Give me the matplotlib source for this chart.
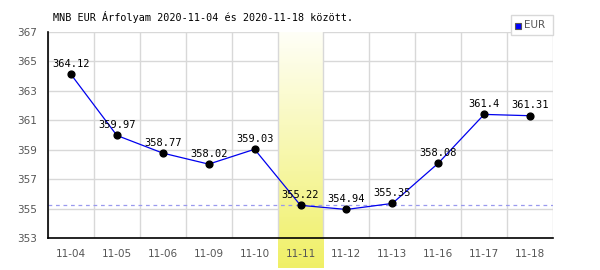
import numpy as np
import matplotlib.pyplot as plt
from matplotlib.patches import Rectangle

# EUR rates.
dates = ['11-04', '11-05', '11-06', '11-09', '11-10', '11-11',
         '11-12', '11-13', '11-16', '11-17', '11-18']
rates = [364.12, 359.97, 358.77, 358.02, 359.03, 355.22,
         354.94, 355.35, 358.08, 361.4, 361.31]
rate_labels = ['364.12', '359.97', '358.77', '358.02', '359.03', '355.22',
               '354.94', '355.35', '358.08', '361.4', '361.31']
highlight = '11-11'
ref_rate = 355.22
y_ticks = [353, 355, 357, 359, 361, 363, 365, 367]

fig = plt.figure(figsize=(6, 2.7), dpi=100)
ax = fig.add_axes([48 / 600, 32 / 270, 505 / 600, 206 / 270])

x = np.arange(len(dates))

# Yellow gradient band behind the highlighted day, running down past the axis.
hi = dates.index(highlight)
t = np.linspace(0, 1, 256)[:, None, None]
top = np.array([1.0, 1.0, 0.97])
bottom = np.array([0.94, 0.94, 0.40])
img = top + (bottom - top) * t
ax.imshow(img, extent=(hi - 0.5, hi + 0.5, -30 / 206, 1.0),
          transform=ax.get_xaxis_transform(), aspect='auto',
          clip_on=False, zorder=0.5, interpolation='bilinear')

ax.set_xlim(-0.5, len(dates) - 0.5)
ax.set_ylim(353, 367)

for xb in np.arange(-0.5, len(dates), 1.0):
    ax.axvline(xb, color='#d8d8d8', lw=1, zorder=0.6)
for yt in y_ticks:
    ax.axhline(yt, color='#d8d8d8', lw=1, zorder=0.4)

ax.axhline(ref_rate, color='#9999ee', lw=0.9, ls=(0, (3, 3)), zorder=1)

ax.plot(x, rates, color='#0000ee', lw=0.9, zorder=2)
ax.scatter(x, rates, s=24, color='black', zorder=3)
for xi, v, lab in zip(x, rates, rate_labels):
    ax.annotate(lab, (xi, v), xytext=(0, 4), textcoords='offset points',
                ha='center', va='bottom', fontsize=7.5,
                family='DejaVu Sans Mono', zorder=4)

ax.set_xticks(x)
ax.set_xticklabels(dates)
ax.set_yticks(y_ticks)
ax.tick_params(length=0, labelsize=7.5, colors='#555555', pad=8)
for s in ['top', 'right']:
    ax.spines[s].set_visible(False)
for s in ['left', 'bottom']:
    ax.spines[s].set_color('black')
    ax.spines[s].set_linewidth(1.2)
    ax.spines[s].set_zorder(5)

fig.text(53 / 600, 1 - 17 / 270,
         'MNB EUR Árfolyam 2020-11-04 és 2020-11-18 között.',
         family='DejaVu Sans Mono', fontsize=7.3, va='center', ha='left')

# Legend box at top right.
fig.patches.append(Rectangle((511 / 600, 1 - 35 / 270), 42 / 600, 20 / 270,
                             transform=fig.transFigure, facecolor='white',
                             edgecolor='#d8d8d8', lw=1))
fig.patches.append(Rectangle((515 / 600, 1 - 29 / 270), 6 / 600, 6 / 270,
                             transform=fig.transFigure, facecolor='#0000ff',
                             edgecolor='#555555', lw=0.8))
fig.text(524 / 600, 1 - 25.5 / 270, 'EUR', fontsize=7.5, color='#555555',
         va='center', ha='left')

fig.savefig('out.png', dpi=100)
